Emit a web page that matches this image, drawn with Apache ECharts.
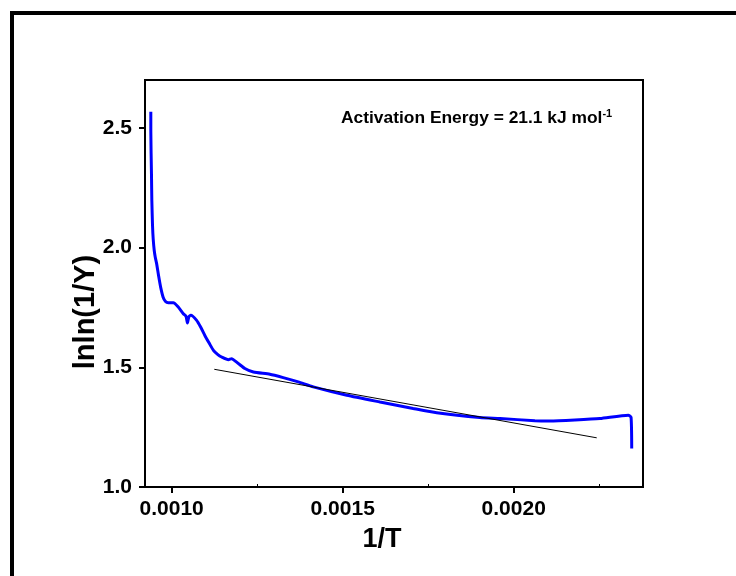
<!DOCTYPE html>
<html>
<head>
<meta charset="utf-8">
<script src="https://cdn.jsdelivr.net/npm/echarts@6/dist/echarts.min.js"></script>
<style>html,body{margin:0;padding:0;background:#fff}#c{width:736px;height:576px}</style>
</head>
<body>
<div id="c"></div>
<script>
// Data
var invT = [0.000939,0.000939,0.000941,0.000942,0.000944,0.000946,0.000949,0.000952,0.000956,0.000962,0.000968,0.000975,0.000982,0.000990,0.001005,0.001018,0.001034,0.001042,0.001046,0.001050,0.001056,0.001073,0.001085,0.001097,0.001110,0.001122,0.001135,0.001146,0.001166,0.001175,0.001194,0.001214,0.001239,0.001287,0.001326,0.001370,0.001414,0.001512,0.001609,0.001706,0.001775,0.001901,0.001960,0.002062,0.002106,0.002179,0.002252,0.002335,0.002343,0.002345];
var lnlnInvY = [2.567,2.488,2.300,2.196,2.092,2.035,1.988,1.960,1.933,1.880,1.833,1.793,1.775,1.770,1.770,1.754,1.724,1.713,1.685,1.710,1.717,1.696,1.667,1.633,1.600,1.571,1.553,1.543,1.532,1.536,1.517,1.495,1.480,1.471,1.457,1.439,1.418,1.383,1.355,1.328,1.310,1.290,1.286,1.277,1.276,1.280,1.286,1.300,1.292,1.161];
var fitX = [0.0011246, 0.0022427];
var fitY = [1.4917, 1.2054];
var xTicks = [0.0010, 0.0015, 0.0020];
var xMinorTicks = [0.00125, 0.00175, 0.00225];
var yTicks = [1.0, 1.5, 2.0, 2.5];
var annotation = 'Activation Energy = 21.1 kJ mol';
var annotationSup = '-1';
var xName = '1/T';
var yName = 'lnln(1/Y)';

var FONT = '"Liberation Sans", Arial, sans-serif';
var chart = echarts.init(document.getElementById('c'), null, {renderer: 'canvas'});

function zip(a, b) { return a.map(function (v, i) { return [v, b[i]]; }); }

chart.setOption({
  animation: false,
  backgroundColor: '#fff',
  grid: {left: 145, top: 80, width: 498, height: 407, show: true, borderColor: '#000', borderWidth: 2, backgroundColor: 'transparent'},
  xAxis: [{
    type: 'value', min: 0.000922, max: 0.002378,
    axisLine: {show: true, onZero: false, lineStyle: {color: '#000', width: 2}},
    axisTick: {show: true, length: 6, lineStyle: {color: '#000', width: 2}, customValues: xTicks},
    axisLabel: {customValues: xTicks, margin: 12, color: '#000', fontFamily: FONT, fontWeight: 'bold', fontSize: 21,
      formatter: function (v) { return v.toFixed(4); }},
    splitLine: {show: false}
  }, {
    type: 'value', min: 0.000922, max: 0.002378, position: 'bottom',
    axisLine: {show: false},
    axisTick: {show: true, inside: true, length: 3, lineStyle: {color: '#000', width: 1}, customValues: xMinorTicks},
    axisLabel: {show: false},
    splitLine: {show: false}
  }],
  yAxis: {
    type: 'value', min: 1.0, max: 2.7,
    axisLine: {show: true, onZero: false, lineStyle: {color: '#000', width: 2}},
    axisTick: {show: true, length: 6, lineStyle: {color: '#000', width: 2}, customValues: yTicks},
    axisLabel: {customValues: yTicks, margin: 13, color: '#000', fontFamily: FONT, fontWeight: 'bold', fontSize: 21,
      formatter: function (v) { return v.toFixed(1); }},
    splitLine: {show: false}
  },
  series: [{
    type: 'line', data: zip(invT, lnlnInvY), showSymbol: false, symbol: 'none', smooth: 0.2,
    lineStyle: {color: '#0000ff', width: 3}, z: 3
  }, {
    type: 'line', data: zip(fitX, fitY), showSymbol: false, symbol: 'none',
    lineStyle: {color: '#000', width: 1}, z: 4
  }],
  graphic: [
    {type: 'rect', shape: {x: 10, y: 11, width: 726, height: 4}, style: {fill: '#000'}},
    {type: 'rect', shape: {x: 10, y: 11, width: 4, height: 565}, style: {fill: '#000'}},
    {type: 'text', x: 382, y: 540, style: {text: xName, font: 'bold 27px ' + FONT, fill: '#000', align: 'center', verticalAlign: 'middle'}},
    {type: 'text', x: 86, y: 312, rotation: Math.PI / 2, style: {text: yName, font: 'bold 29px ' + FONT, fill: '#000', align: 'center', verticalAlign: 'middle'}},
    {type: 'text', x: 341, y: 118, style: {
      text: '{a|' + annotation + '}{s|' + annotationSup + '}',
      verticalAlign: 'middle', align: 'left',
      rich: {
        a: {fontFamily: FONT, fontWeight: 'bold', fontSize: 17.4, color: '#000', lineHeight: 20},
        s: {fontFamily: FONT, fontWeight: 'bold', fontSize: 11, color: '#000', verticalAlign: 'top', lineHeight: 20, padding: [0, 0, 10, 0]}
      }}}
  ]
});
</script>
</body>
</html>
